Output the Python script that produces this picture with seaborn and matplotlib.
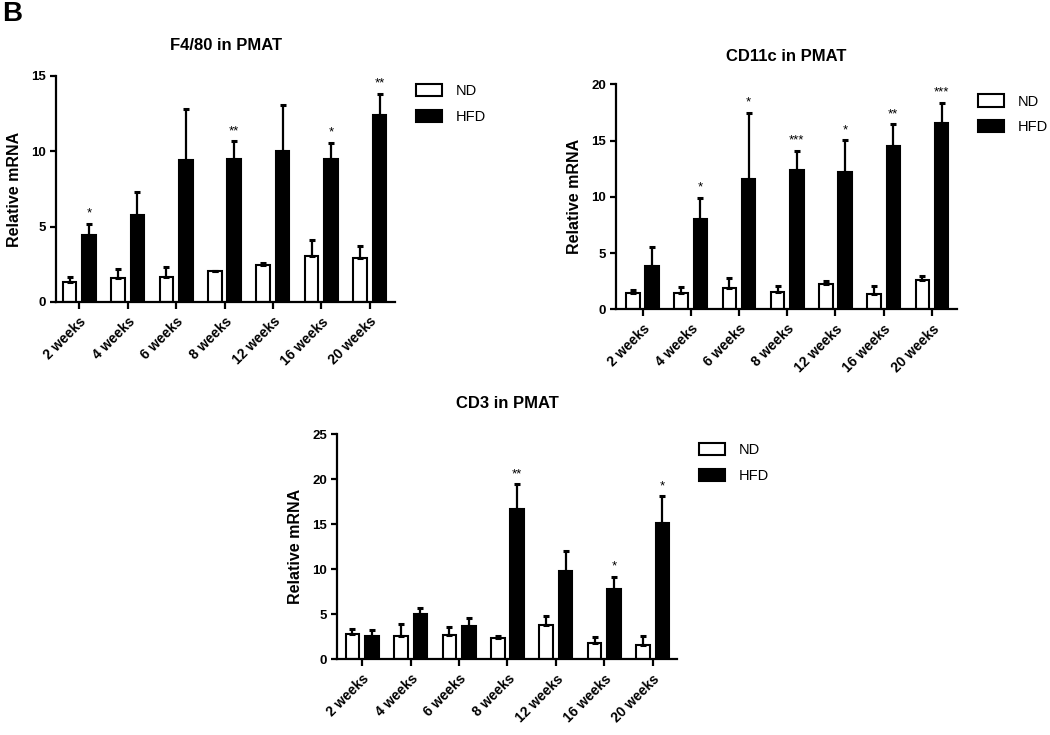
import numpy as np
import pandas as pd
import seaborn as sns
import matplotlib
matplotlib.use("Agg")
from matplotlib import pyplot as plt

# data (mean and SEM, relative mRNA)
weeks = ["2 weeks", "4 weeks", "6 weeks", "8 weeks", "12 weeks", "16 weeks", "20 weeks"]
groups = ["ND", "HFD"]

f480_nd = [1.36, 1.60, 1.67, 2.04, 2.47, 3.07, 2.93]
f480_nd_sem = [0.33, 0.60, 0.66, 0.03, 0.09, 1.06, 0.78]
f480_hfd = [4.47, 5.78, 9.40, 9.49, 10.02, 9.47, 12.40]
f480_hfd_sem = [0.71, 1.51, 3.38, 1.18, 3.07, 1.09, 1.42]
f480_stars = ["*", "", "", "**", "", "*", "**"]

cd11c_nd = [1.45, 1.48, 1.93, 1.57, 2.28, 1.39, 2.61]
cd11c_nd_sem = [0.27, 0.48, 0.88, 0.50, 0.27, 0.68, 0.32]
cd11c_hfd = [3.88, 8.06, 11.61, 12.41, 12.24, 14.49, 16.53]
cd11c_hfd_sem = [1.69, 1.87, 5.84, 1.66, 2.78, 1.95, 1.84]
cd11c_stars = ["", "*", "*", "***", "*", "**", "***"]

cd3_nd = [2.78, 2.56, 2.67, 2.33, 3.78, 1.81, 1.59]
cd3_nd_sem = [0.63, 1.40, 0.92, 0.26, 1.03, 0.71, 0.97]
cd3_hfd = [2.63, 5.07, 3.70, 16.67, 9.81, 7.81, 15.15]
cd3_hfd_sem = [0.59, 0.63, 0.89, 2.77, 2.19, 1.34, 2.95]
cd3_stars = ["", "", "", "**", "", "*", "*"]

sns.set_style("ticks")
plt.rcParams["font.family"] = ["Liberation Sans", "DejaVu Sans"]
plt.rcParams["axes.linewidth"] = 1.6
for key in ["text.color", "axes.labelcolor", "xtick.color", "ytick.color", "axes.edgecolor"]:
    plt.rcParams[key] = "black"

fig = plt.figure(figsize=(10.5, 7.35), dpi=100)


def panel(rect, title, nd, nd_sem, hfd, hfd_sem, stars, ymax, ystep, xlim, title_pad, leg_xy):
    ax = fig.add_axes(rect)
    df = pd.DataFrame({
        "week": weeks * 2,
        "group": ["ND"] * 7 + ["HFD"] * 7,
        "value": nd + hfd,
    })
    sns.barplot(data=df, x="week", y="value", hue="group", hue_order=groups,
                palette={"ND": "white", "HFD": "black"}, edgecolor="black",
                linewidth=1.5, gap=0.3, errorbar=None, ax=ax)
    # one-sided SEM bars on top of each bar
    for cont, sem in zip(ax.containers, [nd_sem, hfd_sem]):
        xs = [p.get_x() + p.get_width() / 2 for p in cont]
        ys = [p.get_height() for p in cont]
        ax.errorbar(xs, ys, yerr=[np.zeros(len(sem)), sem], fmt="none",
                    ecolor="black", elinewidth=1.6, capsize=2.3, capthick=2.2,
                    zorder=1)
    # significance stars above HFD bars
    hfd_cont = ax.containers[1]
    for p, s, e, st in zip(hfd_cont, hfd, hfd_sem, stars):
        if st:
            ax.annotate(st, (p.get_x() + p.get_width() / 2, s + e),
                        xytext=(0, 3), textcoords="offset points",
                        ha="center", va="bottom", fontsize=9.5)
    ax.set_ylim(0, ymax)
    ax.set_yticks(np.arange(0, ymax + 0.1, ystep))
    ax.set_xlim(*xlim)
    sns.despine(ax=ax)
    ax.set_xlabel("")
    ax.set_ylabel("Relative mRNA", fontsize=11.5, fontweight="bold", labelpad=7)
    ax.set_title(title, fontsize=12, fontweight="bold", pad=title_pad)
    ax.tick_params(axis="y", length=4, width=1.6, labelsize=9.5, pad=3)
    ax.tick_params(axis="x", length=5, width=1.6, labelsize=10, pad=4)
    for lab in ax.get_yticklabels():
        lab.set_fontweight("bold")
    plt.setp(ax.get_xticklabels(), rotation=45, ha="right",
             rotation_mode="anchor", fontweight="bold")
    ax.legend(loc="upper left", bbox_to_anchor=leg_xy, frameon=False,
              fontsize=10.5, handlelength=1.8, handleheight=0.9,
              labelspacing=0.8, handletextpad=0.9, borderpad=0,
              borderaxespad=0)
    return ax


panel([56 / 1050, 1 - 302 / 735, 339 / 1050, 226 / 735], "F4/80 in PMAT",
      f480_nd, f480_nd_sem, f480_hfd, f480_hfd_sem, f480_stars,
      15, 5, (-0.48, 6.52), 19, (1.062, 0.965))
panel([616 / 1050, 1 - 309.3 / 735, 341 / 1050, 225 / 735], "CD11c in PMAT",
      cd11c_nd, cd11c_nd_sem, cd11c_hfd, cd11c_hfd_sem, cd11c_stars,
      20, 5, (-0.55, 6.52), 17, (1.062, 0.955))
panel([337 / 1050, 1 - 659.3 / 735, 340 / 1050, 225 / 735], "CD3 in PMAT",
      cd3_nd, cd3_nd_sem, cd3_hfd, cd3_hfd_sem, cd3_stars,
      25, 5, (-0.52, 6.5), 19, (1.065, 0.96))

fig.text(0.002, 0.998, "B", fontsize=20, fontweight="bold", ha="left", va="top")

fig.savefig("out.png", dpi=100)
